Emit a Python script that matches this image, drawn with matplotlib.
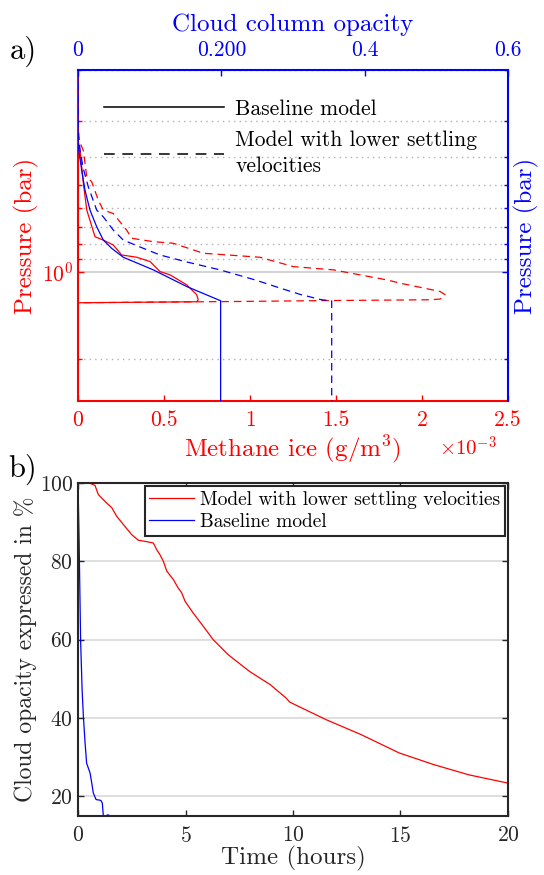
import numpy as np
import matplotlib
matplotlib.use('Agg')
import matplotlib.pyplot as plt
from matplotlib.lines import Line2D
from matplotlib.ticker import LogLocator, NullFormatter, FixedLocator, FixedFormatter, FuncFormatter

plt.rcParams['font.family'] = ['cmr10', 'DejaVu Serif']
plt.rcParams['mathtext.fontset'] = 'cm'
plt.rcParams['axes.formatter.use_mathtext'] = True

# --- a) vertical profiles ---
# methane ice (in units of 1e-3 g/m3) vs pressure (bar)
ICE_UNIT = 1e-3
p_ice_base = [0.2, 0.351, 0.38, 0.482, 0.611, 0.717, 0.756, 0.776, 0.807, 0.874, 0.890, 0.921,
              0.998, 1.024, 1.109, 1.200, 1.249, 1.269, 1.279, 1.284, 2.8]
ice_base = [0, 0, 0.012, 0.029, 0.051, 0.087, 0.099, 0.147, 0.205, 0.254, 0.341, 0.419,
            0.477, 0.535, 0.632, 0.690, 0.699, 0.690, 0.012, 0, 0]
p_ice_slow = [0.2, 0.324, 0.346, 0.380, 0.469, 0.488, 0.565, 0.611, 0.628, 0.717, 0.765, 0.786,
              0.796, 0.862, 0.890, 0.959, 0.984, 1.066, 1.094, 1.169, 1.200, 1.242, 1.249,
              1.256, 1.266, 1.279, 1.284, 2.8]
ice_slow = [0, 0, 0.002, 0.031, 0.051, 0.080, 0.118, 0.147, 0.205, 0.283, 0.312, 0.438,
            0.554, 0.728, 1.058, 1.252, 1.484, 1.795, 1.872, 2.105, 2.134, 2.105, 2.047,
            1.523, 0.942, 0.012, 0, 0]
# cloud column opacity vs pressure
p_tau_base = [0.2, 0.337, 0.370, 0.445, 0.522, 0.611, 0.698, 0.776, 0.829, 0.890, 0.984,
              1.124, 1.259, 2.8]
tau_base = [0, 0, 0.0004, 0.0052, 0.0098, 0.0167, 0.0261, 0.0353, 0.047, 0.0632, 0.105,
            0.1517, 0.199, 0.199]
p_tau_slow = [0.2, 0.311, 0.380, 0.439, 0.508, 0.611, 0.645, 0.717, 0.776, 0.820, 0.874,
              0.924, 0.984, 1.066, 1.138, 1.197, 1.249, 1.259, 2.8]
tau_slow = [0, 0, 0.0028, 0.0074, 0.0144, 0.0261, 0.0353, 0.0493, 0.0632, 0.0865, 0.1144,
            0.1517, 0.198, 0.247, 0.282, 0.310, 0.340, 0.354, 0.354]

ice_ticks = [0, 0.5, 1, 1.5, 2, 2.5]
tau_ticks = [0, 0.2, 0.4, 0.6]
tau_ticklabels = ['0', '0.200', '0.4', '0.6']

# --- b) opacity decay with time ---
t_slow = [0, 0.56, 0.79, 0.94, 1.02, 1.33, 1.57, 1.80, 2.11, 2.50, 2.80, 3.12, 3.50, 3.66,
          3.81, 3.97, 4.13, 4.43, 4.66, 4.82, 4.98, 5.36, 5.83, 6.29, 6.98, 7.98, 8.95,
          9.68, 9.84, 10.25, 11.54, 13.16, 14.94, 16.56, 18.19, 20.0]
op_slow = [100, 99.9, 99.4, 97.1, 96.6, 94.9, 93.7, 91.5, 89.4, 86.8, 85.4, 85.1, 84.7, 83.0,
           81.7, 80.0, 77.5, 75.4, 73.2, 72.0, 69.8, 66.8, 63.4, 60.0, 56.2, 51.9, 48.5,
           45.1, 44.1, 43.0, 39.6, 35.8, 31.1, 28.1, 25.5, 23.4]
t_base = [0, 0.05, 0.12, 0.19, 0.25, 0.33, 0.40, 0.56, 0.64, 0.71, 0.84, 1.06, 1.13, 1.18,
          1.30, 1.36, 1.45, 1.52]
op_base = [100, 85.6, 60.0, 47.3, 40.4, 33.6, 28.5, 26.0, 23.4, 20.9, 19.2, 19.0, 18.3, 14.9,
           14.6, 15.3, 15.2, 14.5]

RED = '#ff0000'
BLUE = '#0000ff'
DARK = '#262626'
DASH = (0, (6, 4))
LABEL_FS = 18
TICK_FS = 15.5

fig = plt.figure(figsize=(5.44, 8.75), dpi=100)

rect_a = [0.1434, 0.5417, 0.7904, 0.3783]
ax = fig.add_axes(rect_a)
ax2 = fig.add_axes(rect_a, sharey=ax)
ax2.patch.set_visible(False)

ax.plot(np.array(ice_base) * ICE_UNIT, p_ice_base, color=RED, lw=0.9)
ax.plot(np.array(ice_slow) * ICE_UNIT, p_ice_slow, color=RED, lw=0.9, ls=DASH)
ax2.plot(tau_base, p_tau_base, color=BLUE, lw=0.9)
ax2.plot(tau_slow, p_tau_slow, color=BLUE, lw=0.9, ls=DASH)

ax.set_yscale('log')
ax.set_ylim(2.8, 0.2)
ax.yaxis.set_major_locator(LogLocator(base=10))
ax.yaxis.set_minor_locator(LogLocator(base=10, subs=np.arange(2, 10)))
ax.yaxis.set_minor_formatter(NullFormatter())
ax.set_xlim(0, 2.5 * ICE_UNIT)
ax.xaxis.set_major_locator(FixedLocator(np.array(ice_ticks) * ICE_UNIT))
ax.xaxis.set_major_formatter(FuncFormatter(lambda v, pos: f'{v / ICE_UNIT:g}'))
ax.grid(axis='y', which='major', color='#d0d0d0', lw=1.3, ls='-')
ax.grid(axis='y', which='minor', color='#b0b0b0', lw=1.0, ls=(0, (1, 3)))

ax2.set_xlim(0, 0.6)
ax2.xaxis.set_major_locator(FixedLocator(tau_ticks))
ax2.xaxis.set_major_formatter(FixedFormatter(tau_ticklabels))
ax2.xaxis.tick_top()
ax2.xaxis.set_label_position('top')
ax2.yaxis.tick_right()
ax2.yaxis.set_label_position('right')

for s in ['top', 'right']:
    ax.spines[s].set_visible(False)
for s in ['left', 'bottom']:
    ax.spines[s].set_color(RED)
    ax.spines[s].set_linewidth(1.5)
    ax2.spines[s].set_visible(False)
for s in ['top', 'right']:
    ax2.spines[s].set_color(BLUE)
    ax2.spines[s].set_linewidth(1.5)

ax.tick_params(which='both', direction='in', colors=RED, labelsize=TICK_FS, length=4, width=1)
ax.tick_params(which='minor', length=3)
ax.tick_params(axis='x', pad=7)
ax2.tick_params(which='both', direction='in', colors=BLUE, labelsize=TICK_FS, length=4, width=1,
                labelright=False, labelleft=False, left=False, bottom=False)
ax2.tick_params(which='minor', length=3)
ax2.tick_params(axis='x', pad=7)

ax.set_xlabel('Methane ice (g/m$^3$)', color=RED, fontsize=LABEL_FS, labelpad=2)
ax.set_ylabel('Pressure (bar)', color=RED, fontsize=LABEL_FS, labelpad=2)
ax2.set_xlabel('Cloud column opacity', color=BLUE, fontsize=LABEL_FS, labelpad=7)
ax2.set_ylabel('Pressure (bar)', color=BLUE, fontsize=LABEL_FS, labelpad=4)
ax.text(0.975, -0.14, r'$\times10^{-3}$', transform=ax.transAxes, color=RED, fontsize=15,
        ha='right', va='center')

handles = [Line2D([], [], color='k', lw=1.1), Line2D([], [], color='k', lw=1.1, ls=(0, (7, 5)))]
leg_a = ax2.legend(handles, ['Baseline model', 'Model with lower settling\nvelocities'],
                   loc='upper left', bbox_to_anchor=(0.06, 0.912), frameon=False, fontsize=15.5,
                   handlelength=5.6, handletextpad=0.5, labelspacing=0.55, borderpad=0,
                   borderaxespad=0)
for txt in leg_a.get_texts():
    txt.set_linespacing(1.45)

fig.text(0.043, 0.941, 'a)', fontsize=22, ha='center', va='center')

# --- panel b ---
bx = fig.add_axes([0.1434, 0.0674, 0.7904, 0.3806])
bx.plot(t_slow, op_slow, color=RED, lw=0.9, label='Model with lower settling velocities')
bx.plot(t_base, op_base, color=BLUE, lw=0.9, label='Baseline model')
bx.set_xlim(0, 20)
bx.set_ylim(15, 100)
bx.set_xticks([0, 5, 10, 15, 20])
bx.set_yticks([20, 40, 60, 80, 100])
bx.grid(axis='y', color='#dcdcdc', lw=1.3)
bx.tick_params(direction='in', top=True, right=True, labelsize=TICK_FS, length=4, width=1,
               color=DARK, labelcolor=DARK)
bx.tick_params(axis='x', pad=7)
for s in bx.spines.values():
    s.set_linewidth(1.5)
    s.set_color(DARK)
bx.set_xlabel('Time (hours)', fontsize=LABEL_FS, color=DARK, labelpad=0)
bx.set_ylabel('Cloud opacity expressed in %', fontsize=17, color=DARK, labelpad=2)
leg = bx.legend(loc='upper right', bbox_to_anchor=(0.993, 0.99), fontsize=14,
                handlelength=2.3, handletextpad=0.3, borderaxespad=0, fancybox=False,
                framealpha=1, edgecolor=DARK, borderpad=0.25, labelspacing=0.2)
leg.get_frame().set_linewidth(1.5)

fig.text(0.042, 0.464, 'b)', fontsize=22, ha='center', va='center')

fig.savefig('out.png', dpi=100)
